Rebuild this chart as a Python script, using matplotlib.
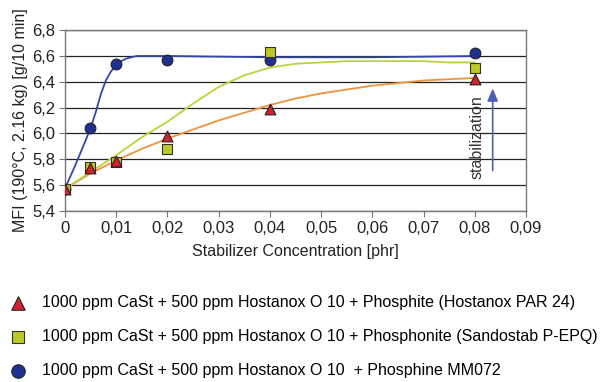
import matplotlib
matplotlib.use("Agg")
import matplotlib.pyplot as plt
from matplotlib.ticker import FuncFormatter, MultipleLocator

plt.rcParams['font.family'] = ['Liberation Sans', 'DejaVu Sans']

# measured points
conc = [0, 0.005, 0.01, 0.02, 0.04, 0.08]
mfi_phosphite = [5.57, 5.73, 5.79, 5.98, 6.19, 6.42]
mfi_phosphonite = [5.57, 5.74, 5.78, 5.88, 6.63, 6.51]
mfi_phosphine = [5.57, 6.04, 6.54, 6.57, 6.57, 6.62]

# trend lines
trend_x_blue = [0, 0.002, 0.004, 0.005, 0.006, 0.007, 0.008, 0.009, 0.01, 0.011,
                0.012, 0.013, 0.014, 0.016, 0.02, 0.04, 0.06, 0.08]
trend_blue = [5.57, 5.75, 5.94, 6.04, 6.16, 6.30, 6.41, 6.48, 6.53, 6.56,
              6.58, 6.59, 6.60, 6.60, 6.60, 6.59, 6.59, 6.60]
trend_x = [0, 0.005, 0.01, 0.015, 0.02, 0.025, 0.03, 0.035, 0.04, 0.045,
           0.05, 0.055, 0.06, 0.065, 0.07, 0.075, 0.08]
trend_green = [5.57, 5.70, 5.83, 5.97, 6.09, 6.23, 6.36, 6.45, 6.51, 6.54,
               6.55, 6.56, 6.56, 6.56, 6.56, 6.55, 6.55]
trend_orange = [5.57, 5.69, 5.79, 5.88, 5.96, 6.03, 6.10, 6.16, 6.22, 6.27,
                6.31, 6.34, 6.37, 6.39, 6.41, 6.42, 6.43]

labels = ["1000 ppm CaSt + 500 ppm Hostanox O 10 + Phosphite (Hostanox PAR 24)",
          "1000 ppm CaSt + 500 ppm Hostanox O 10 + Phosphonite (Sandostab P-EPQ)",
          "1000 ppm CaSt + 500 ppm Hostanox O 10  + Phosphine MM072"]

fs = 11.5

fig = plt.figure(figsize=(6.06, 3.82), dpi=100)
ax = fig.add_axes([0.107, 0.448, 0.761, 0.473])

ax.plot(trend_x, trend_orange, color='#f0913f', lw=1.3, zorder=2)
ax.plot(trend_x, trend_green, color='#b9d33a', lw=1.3, zorder=2)
ax.plot(trend_x_blue, trend_blue, color='#3447a8', lw=1.3, zorder=2)

h1 = ax.scatter(conc, mfi_phosphite, marker='^', s=60, color='#d6202c',
                edgecolor='#222222', linewidth=0.8, zorder=5, label=labels[0])
h2 = ax.scatter(conc, mfi_phosphonite, marker='s', s=52, color='#bcc928',
                edgecolor='#333333', linewidth=0.8, zorder=4, label=labels[1])
h3 = ax.scatter(conc, mfi_phosphine, marker='o', s=60, color='#1f3190',
                edgecolor='#222222', linewidth=0.8, zorder=3, label=labels[2])

ax.set_xlim(0, 0.09)
ax.set_ylim(5.4, 6.8)
ax.xaxis.set_major_locator(MultipleLocator(0.01))
ax.yaxis.set_major_locator(MultipleLocator(0.2))
ax.xaxis.set_major_formatter(FuncFormatter(lambda v, p: '0' if abs(v) < 1e-9 else ('%.2f' % v).replace('.', ',')))
ax.yaxis.set_major_formatter(FuncFormatter(lambda v, p: ('%.1f' % v).replace('.', ',')))
ax.grid(axis='y', color='#222222', lw=0.9)
ax.set_axisbelow(True)
for s in ax.spines.values():
    s.set_color('#777777')
    s.set_linewidth(1.0)
ax.tick_params(labelsize=12, color='#777777', length=4, pad=3, labelcolor='#222222')

ax.set_xlabel('Stabilizer Concentration [phr]', fontsize=fs, labelpad=6, color='#222222')
ax.set_ylabel('MFI (190°C, 2.16 kg) [g/10 min]', fontsize=fs, labelpad=3, color='#222222')

ax.annotate('', xy=(0.0835, 6.37), xytext=(0.0835, 5.69),
            arrowprops=dict(arrowstyle='-|>,head_length=0.75,head_width=0.32',
                            color='#4f5fb5', lw=1.2))
ax.text(0.0805, 5.97, 'stabilization', rotation=90, ha='center', va='center',
        fontsize=fs, color='#333333')

fig.legend(handles=[h1, h2, h3], loc='upper left', bbox_to_anchor=(0.0, 0.245),
           frameon=False, fontsize=fs, labelspacing=1.2, handletextpad=0.85,
           handlelength=1.4, borderaxespad=0, markerscale=1.25)

fig.savefig('out.png', dpi=100)
